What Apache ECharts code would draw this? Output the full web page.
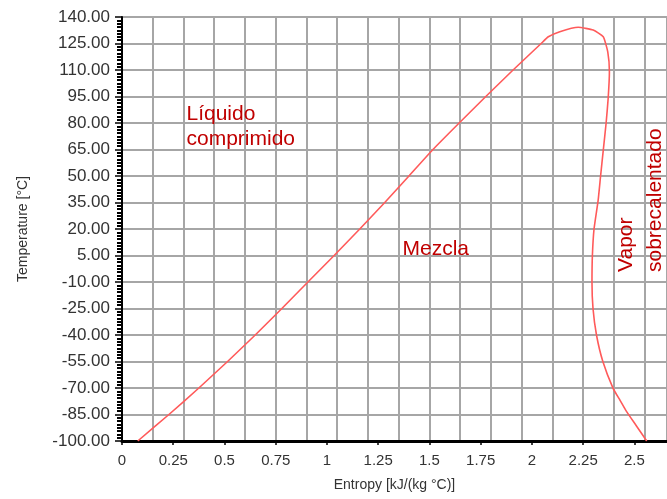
<!DOCTYPE html>
<html>
<head>
<meta charset="utf-8">
<script src="https://cdn.jsdelivr.net/npm/echarts@6/dist/echarts.min.js"></script>
<style>
html,body{margin:0;padding:0;background:#fff;}
#c{width:667px;height:499px;}
</style>
</head>
<body>
<div id="c"></div>
<script>
// Saturation dome (liquid branch up to the critical point, then vapor branch down)
const entropy = [0.077, 0.229, 0.375, 0.515, 0.650, 0.780, 0.907, 1.035, 1.160, 1.282, 1.400, 1.517, 1.645, 1.775, 1.908, 2.045, 2.080, 2.136, 2.226, 2.299, 2.348, 2.370, 2.378, 2.372, 2.362, 2.348, 2.335, 2.323, 2.303, 2.295, 2.293, 2.298, 2.315, 2.346, 2.396, 2.430, 2.462, 2.510, 2.560];
const temperature = [-100, -85, -70, -55, -40, -25, -10, 5, 20, 35, 50, 65, 80, 95, 110, 125, 128.8, 131.7, 134.2, 132.6, 128.8, 120.3, 109.0, 94.0, 80.0, 64.5, 50.0, 36.2, 20.0, 5.0, -10.0, -25.0, -40.0, -55.0, -70.2, -77.0, -83.4, -91.5, -100];

const xLabelStep = 0.25;
const xGridStep = 0.15;
const xMin = 0, xMax = 2.659;
const yMin = -100, yMax = 140, yStep = 15;

const regionLabels = ['Líquido\ncomprimido', 'Mezcla', 'Vapor', 'sobrecalentado'];

const FONT = 'Liberation Sans, Arial, sans-serif';
const RED = '#c00000';

const chart = echarts.init(document.getElementById('c'), null, {renderer: 'canvas'});
const data = entropy.map((s, i) => [s, temperature[i]]);

chart.setOption({
  backgroundColor: '#ffffff',
  animation: false,
  grid: {left: 122, top: 17, right: 0, bottom: 58, containLabel: false},
  xAxis: [
    {
      type: 'value', min: xMin, max: xMax, interval: xLabelStep,
      name: 'Entropy [kJ/(kg °C)]', nameLocation: 'middle', nameGap: 37,
      nameTextStyle: {fontFamily: FONT, fontSize: 14, color: '#333'},
      axisLine: {show: true, onZero: false, lineStyle: {color: '#000', width: 3}},
      axisTick: {show: true, length: 4, lineStyle: {color: '#000', width: 1.5}},
      axisLabel: {fontFamily: FONT, fontSize: 15, color: '#333', margin: 12, showMaxLabel: false},
      splitLine: {show: false}
    },
    {
      type: 'value', min: xMin, max: xMax, interval: xGridStep, position: 'bottom',
      axisLine: {show: false}, axisTick: {show: false}, axisLabel: {show: false},
      splitLine: {show: true, lineStyle: {color: '#a6a6a6', width: 2}}
    }
  ],
  yAxis: {
    type: 'value', min: yMin, max: yMax, interval: yStep,
    name: 'Temperature [°C]', nameLocation: 'middle', nameGap: 92, nameRotate: 90,
    nameTextStyle: {fontFamily: FONT, fontSize: 14, color: '#333'},
    axisLine: {show: true, onZero: false, lineStyle: {color: '#000', width: 2}},
    axisTick: {show: true, length: 7, lineStyle: {color: '#000', width: 1.5}},
    minorTick: {show: true, splitNumber: 8, length: 5, lineStyle: {color: '#000', width: 2}},
    axisLabel: {fontFamily: FONT, fontSize: 17, color: '#333', margin: 12, formatter: v => v.toFixed(2)},
    splitLine: {show: true, lineStyle: {color: '#a6a6a6', width: 2}}
  },
  series: [{
    type: 'line', xAxisIndex: 0, data: data, showSymbol: false, symbol: 'none',
    smooth: 0.15,
    lineStyle: {color: '#ff5a5a', width: 1.6}, z: 5
  }],
  graphic: [
    {type: 'text', x: 186.5, y: 102, z: 10, style: {text: regionLabels[0], font: '21px ' + FONT, fill: RED, lineHeight: 25, verticalAlign: 'top'}},
    {type: 'text', x: 402.5, y: 237, z: 10, style: {text: regionLabels[1], font: '21px ' + FONT, fill: RED, lineHeight: 25, verticalAlign: 'top'}},
    {type: 'text', x: 614, y: 272, rotation: Math.PI / 2, z: 10, style: {text: regionLabels[2], font: '21px ' + FONT, fill: RED, lineHeight: 25, verticalAlign: 'top'}},
    {type: 'text', x: 643, y: 272, rotation: Math.PI / 2, z: 10, style: {text: regionLabels[3], font: '21px ' + FONT, fill: RED, lineHeight: 25, verticalAlign: 'top'}}
  ]
});
</script>
</body>
</html>
